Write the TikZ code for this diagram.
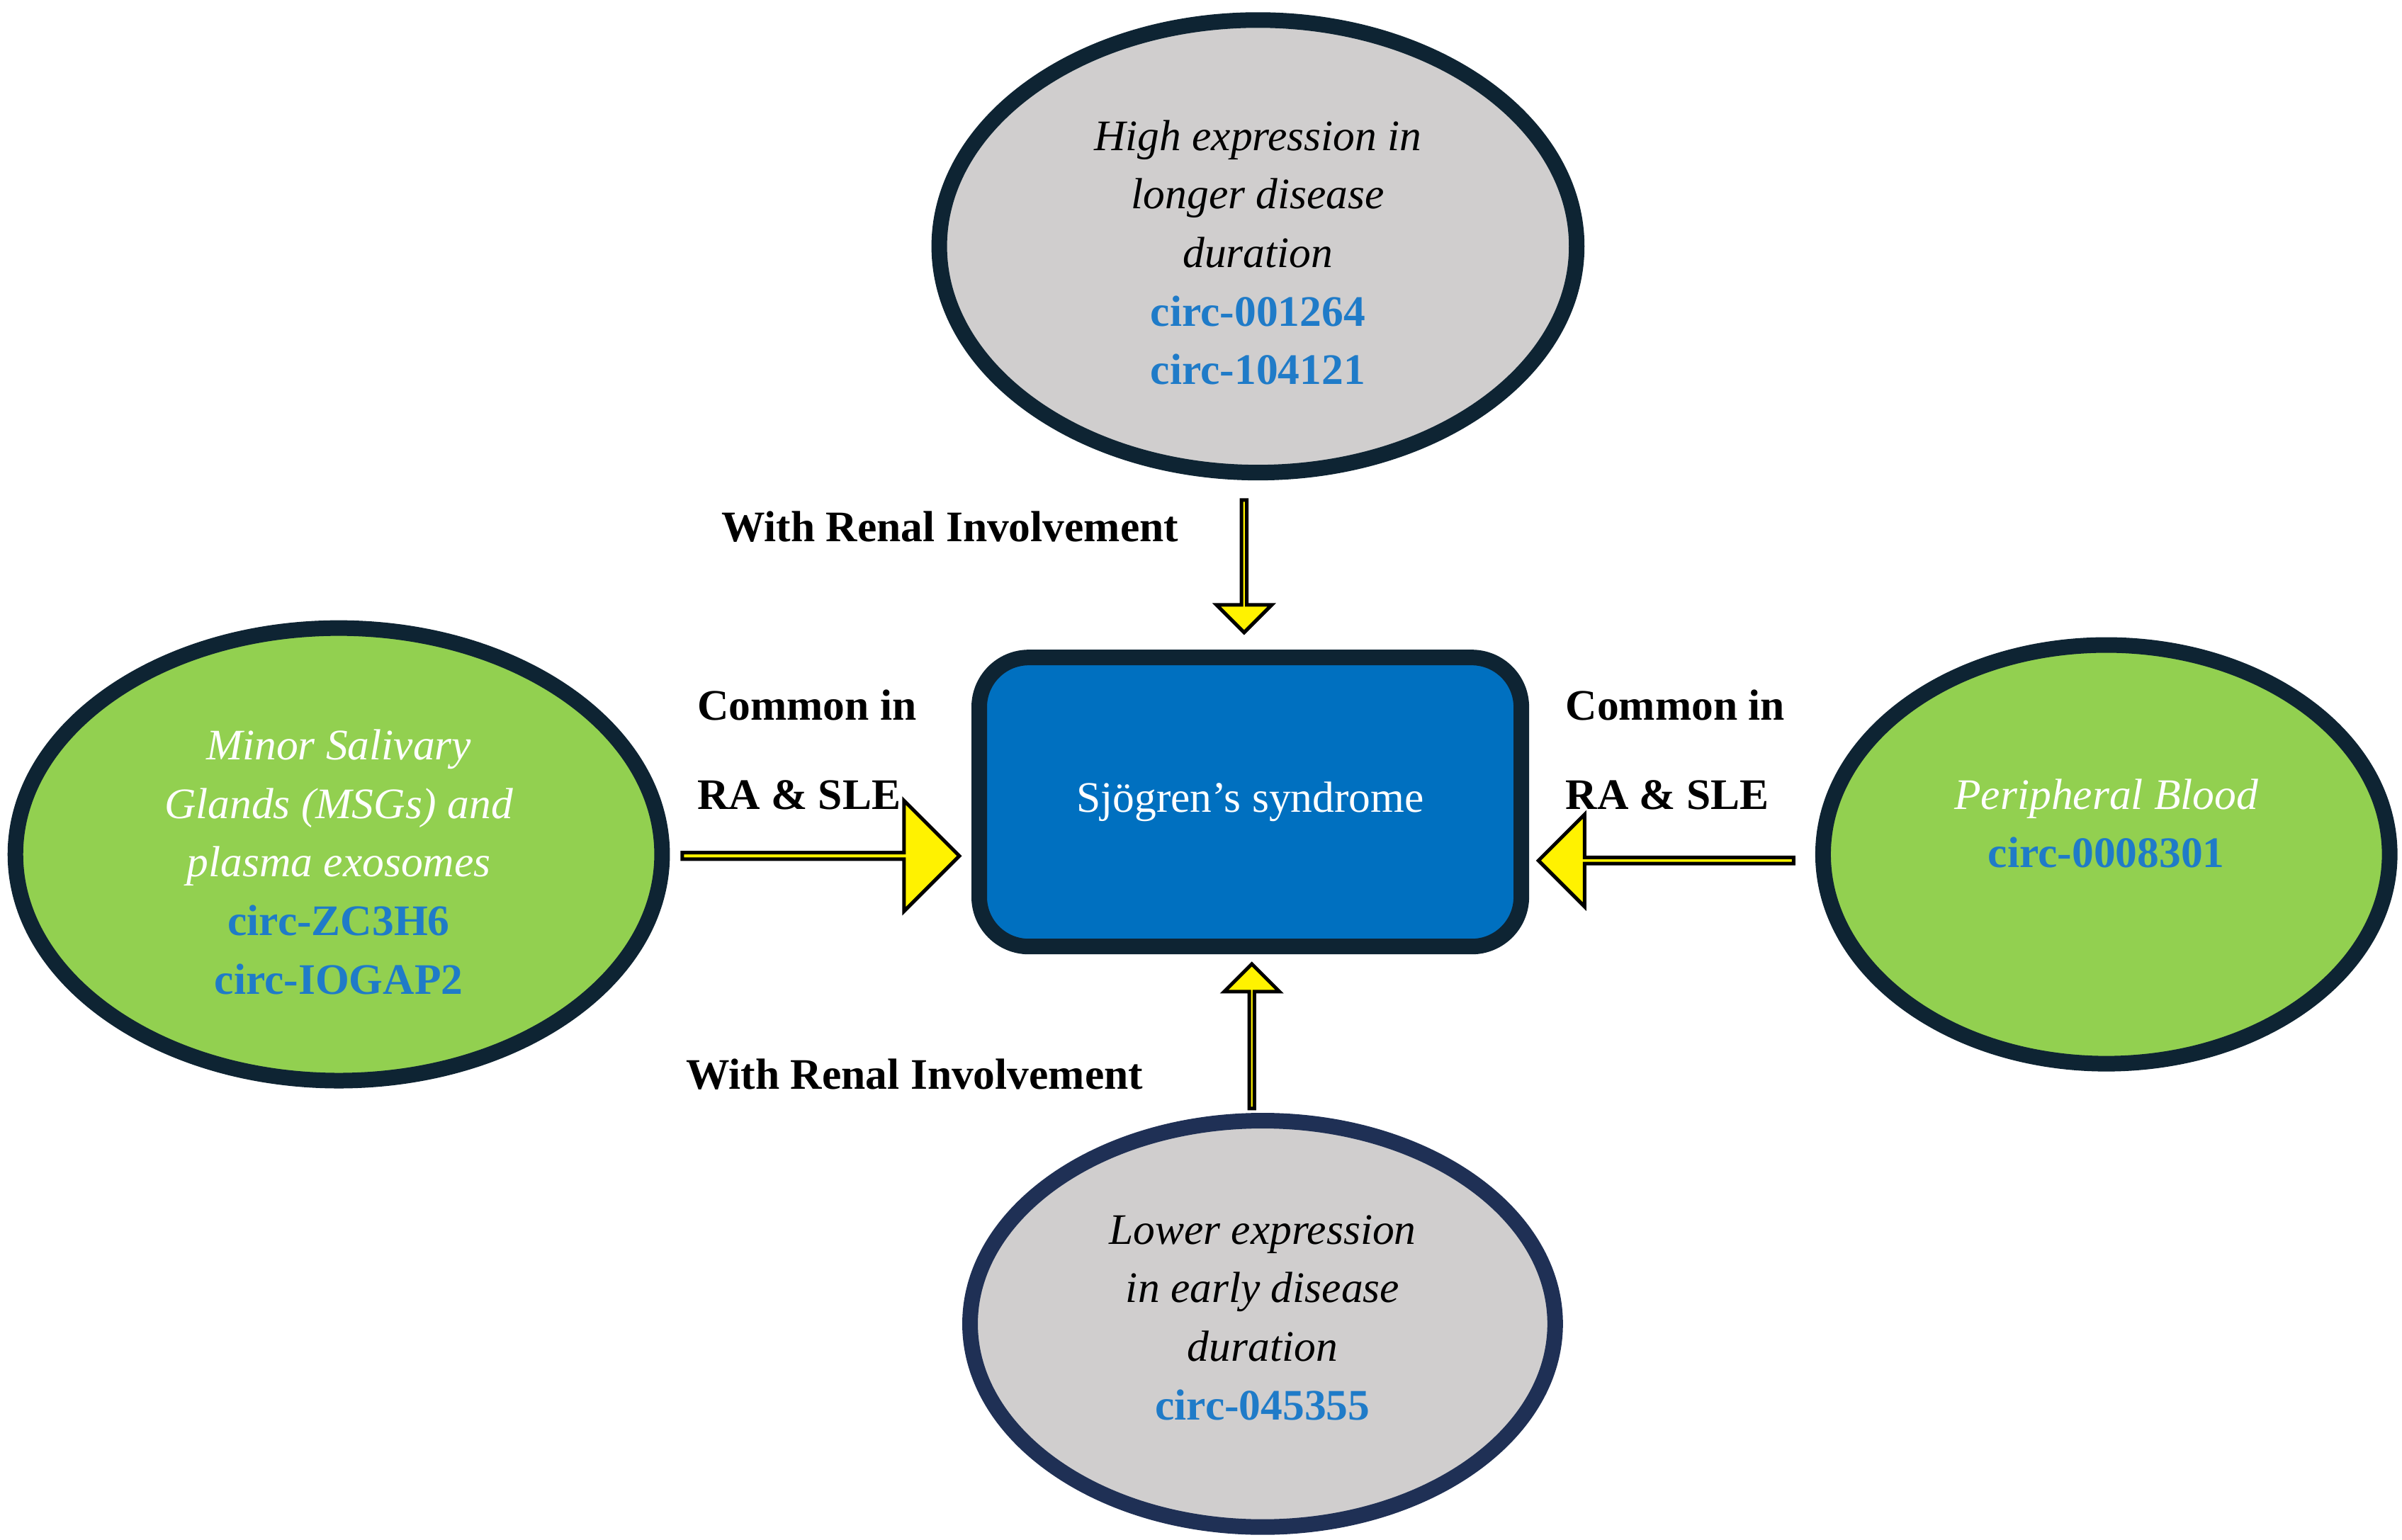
\documentclass[tikz,border=0pt]{standalone}
\usepackage{fontspec}
\setmainfont{Liberation Serif}
\usetikzlibrary{shapes.arrows}
\definecolor{gr}{HTML}{D0CECE}
\definecolor{gn}{HTML}{92D050}
\definecolor{bl}{HTML}{0070C0}
\definecolor{lk}{HTML}{1F7BC8}
\definecolor{nv}{HTML}{0E2433}
\definecolor{nv2}{HTML}{1F3055}
\tikzset{x=0.02173cm,y=-0.02173cm,
 ell/.style={line width=2.2mm,draw=nv},
 txt/.style={align=center,font=\fontsize{17.5}{23.5}\selectfont},
 arr/.style={single arrow,draw=black,fill=yellow,line width=0.5mm,inner sep=0pt,minimum height=#1}}
\newcommand{\lkk}[1]{\textcolor{lk}{\textbf{#1}}}
\begin{document}
\begin{tikzpicture}
\useasboundingbox (0,0) rectangle (1560,1000);
\draw[ell,fill=gr] (817,160) ellipse [x radius=207,y radius=147];
\draw[ell,fill=gn] (220,555) ellipse [x radius=210,y radius=147];
\draw[ell,fill=gn] (1368,555) ellipse [x radius=184,y radius=136];
\draw[ell,draw=nv2,fill=gr] (820,860) ellipse [x radius=190,y radius=132];
\node[txt] (top) at (817,164) {\itshape High expression in\\\itshape longer disease\\\itshape duration\\\lkk{circ-001264}\\\lkk{circ-104121}};
\node[txt,text=white] (left) at (220,560) {\itshape Minor Salivary\\\itshape Glands (MSGs) and\\\itshape plasma exosomes\\\lkk{circ-ZC3H6}\\\lkk{circ-IOGAP2}};
\node[txt,text=white] (right) at (1368,535) {\itshape Peripheral Blood\\\lkk{circ-0008301}};
\node[txt] (bot) at (820,856) {\itshape Lower expression\\\itshape in early disease\\\itshape duration\\\lkk{circ-045355}};
\node[draw=nv,line width=2.2mm,fill=bl,rounded corners=7mm,minimum width=7.65cm,minimum height=4.08cm,txt,text=white] (c) at (812,521) {Sj\"ogren's syndrome};
\node[arr=1.87cm,rotate=-90,minimum width=0.78cm,single arrow head extend=0.24cm] (a1) at (808,367) {};
\node[arr=2.04cm,rotate=90,minimum width=0.78cm,single arrow head extend=0.24cm] (a2) at (813,674) {};
\node[arr=3.91cm,minimum width=1.56cm,single arrow head extend=0.39cm,single arrow tip angle=90] (a3) at (532,556) {};
\node[arr=3.6cm,rotate=180,minimum width=1.3cm,single arrow head extend=0.35cm,single arrow tip angle=90] (a4) at (1083,559) {};
\node[txt,font=\fontsize{17.5}{23.5}\selectfont\bfseries] (l1) at (617,342) {With Renal Involvement};
\node[txt,font=\fontsize{17.5}{23.5}\selectfont\bfseries] (l2) at (594,698) {With Renal Involvement};
\node[txt,font=\fontsize{17.5}{36}\selectfont\bfseries,align=left] (l3) at (524,487) {Common in\\RA \& SLE};
\node[txt,font=\fontsize{17.5}{36}\selectfont\bfseries,align=left] (l4) at (1088,487) {Common in\\RA \& SLE};
\end{tikzpicture}
\end{document}
